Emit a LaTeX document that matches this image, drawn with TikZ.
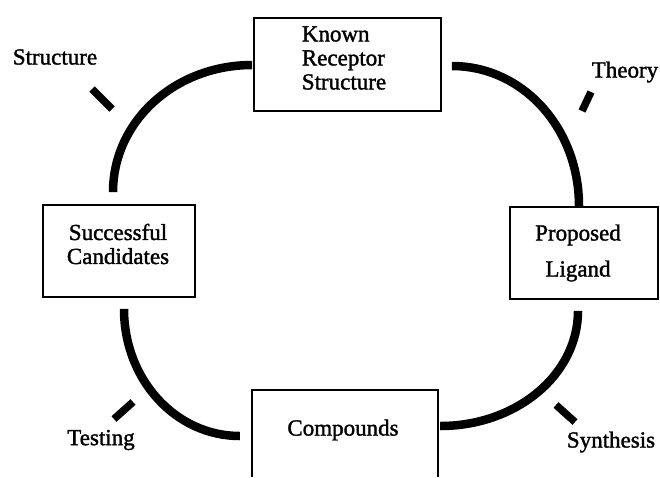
\documentclass[tikz,border=0pt]{standalone}
\usepackage{fontspec}
\setmainfont{Liberation Serif}[FakeBold=1.5]
\usetikzlibrary{calc}
\tikzset{
  box/.style={draw, line width=1.7pt, inner sep=0pt},
  lbl/.style={font=\fontsize{23}{24}\selectfont, inner sep=0pt},
  loopline/.style={line width=8.5pt},
  tickline/.style={line width=7.5pt},
}
\begin{document}
\begin{tikzpicture}[x=1pt,y=-1pt]
\path[use as bounding box] (0,0) rectangle (660,477);
% boxes
\node[box, minimum width=187pt, minimum height=93pt] (known) at (347.5,64.5) {};
\node[lbl, align=left] (knowntxt) at (344,58) {Known\\Receptor\\Structure};
\node[box, minimum width=152pt, minimum height=92pt] (succ) at (119,251) {};
\node[lbl, align=center] (succtxt) at (118,244) {Successful\\Candidates};
\node[box, minimum width=148pt, minimum height=92pt] (prop) at (584,253) {};
\node[lbl, align=center] (proptxt) at (578,253) {Proposed\\[12pt]Ligand};
\node[minimum width=186pt, minimum height=87pt, inner sep=0pt] (comp) at (345,433.5) {};
\draw[line width=1.7pt] (comp.south west) |- (comp.north east) -- (comp.south east);
\node[lbl] (comptxt) at (343,430) {Compounds};
% side labels
\node[lbl] (lstruct) at (55,57) {Structure};
\node[lbl] (ltheory) at (625,72) {Theory};
\node[lbl] (lsynth) at (611,442) {Synthesis};
\node[lbl] (ltest) at (101,440) {Testing};
% loop arcs
\draw[loopline] ($(known.west)+(-1,0.5)$) .. controls +(-77,0) and +(0,-71) .. ($(succ.north)+(-6,-12)$);
\draw[loopline] ($(known.east)+(10,1.5)$) .. controls +(71,0) and +(0,-78) .. ($(prop.north)+(-5,0)$);
\draw[loopline] ($(prop.south)+(-6,11)$) .. controls +(0,64) and +(76,0) .. ($(comp.east)+(2,-7.5)$);
\draw[loopline] ($(succ.south)+(5,11)$) .. controls +(0,71) and +(-64,0) .. ($(comp.west)+(-12,2.5)$);
% ticks
\coordinate (ts1) at (92,89); \coordinate (ts2) at (112,109);
\coordinate (tt1) at (591,92); \coordinate (tt2) at (582,111);
\coordinate (ty1) at (556,405); \coordinate (ty2) at (575,422);
\coordinate (tg1) at (114,419); \coordinate (tg2) at (133,402);
\draw[tickline] (ts1) -- (ts2);
\draw[tickline] (tt1) -- (tt2);
\draw[tickline] (ty1) -- (ty2);
\draw[tickline] (tg1) -- (tg2);
\end{tikzpicture}
\end{document}
